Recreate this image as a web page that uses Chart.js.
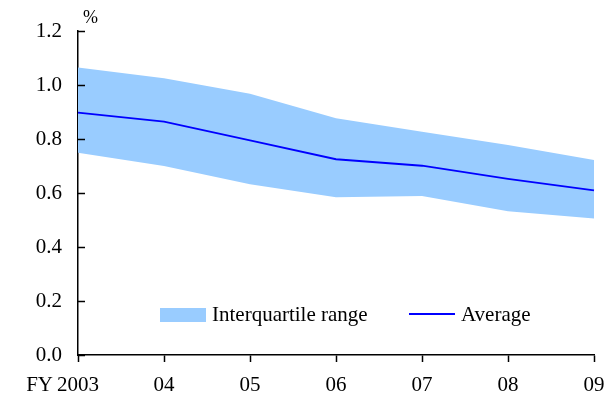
<!DOCTYPE html>
<html>
<head>
<meta charset="utf-8">
<script src="https://cdn.jsdelivr.net/npm/chart.js@4.4.1/dist/chart.umd.min.js"></script>
<style>
  html, body { margin: 0; padding: 0; background: #fff; }
  #wrap { width: 612px; height: 396px; }
</style>
</head>
<body>
<div id="wrap"><canvas id="c" width="612" height="396"></canvas></div>
<script>
const years = ['2003', '04', '05', '06', '07', '08', '09'];
const upperQuartile = [1.065, 1.025, 0.968, 0.877, 0.827, 0.778, 0.722];
const average = [0.898, 0.864, 0.795, 0.725, 0.701, 0.652, 0.610];
const lowerQuartile = [0.749, 0.700, 0.632, 0.584, 0.589, 0.532, 0.506];
const yTickValues = [0, 0.2, 0.4, 0.6, 0.8, 1.0, 1.2];
const seriesNames = ['Interquartile range', 'Average'];
const unitLabel = '%';
const fyLabel = 'FY';

const FONT = '"Liberation Serif", "Times New Roman", serif';
const BAND = '#99CCFF';
const LINE = '#0000FF';

const extras = {
  id: 'extras',
  afterDraw(chart) {
    const ctx = chart.ctx;
    const y = chart.scales.y;
    const x = chart.scales.x;
    const left = chart.chartArea.left;
    ctx.save();
    // inward y ticks
    ctx.strokeStyle = '#000';
    ctx.lineWidth = 1.5;
    yTickValues.forEach(v => {
      const py = Math.round(y.getPixelForValue(v)) + 0.5;
      ctx.beginPath();
      ctx.moveTo(left, py);
      ctx.lineTo(left + 7, py);
      ctx.stroke();
    });
    ctx.fillStyle = '#000';
    // unit label
    ctx.font = '18px ' + FONT;
    ctx.textAlign = 'left';
    ctx.textBaseline = 'alphabetic';
    ctx.fillText(unitLabel, left + 5, 23);
    // FY label
    ctx.font = '21px ' + FONT;
    ctx.textAlign = 'right';
    ctx.textBaseline = 'middle';
    ctx.fillText(fyLabel, x.getPixelForValue(0) - 25, 385);
    // legend
    const ly = 315;
    ctx.fillStyle = BAND;
    ctx.fillRect(160, ly - 7, 46, 14);
    ctx.fillStyle = '#000';
    ctx.textAlign = 'left';
    ctx.fillText(seriesNames[0], 212, ly);
    ctx.strokeStyle = LINE;
    ctx.lineWidth = 1.8;
    ctx.beginPath();
    ctx.moveTo(409, ly - 1);
    ctx.lineTo(455, ly - 1);
    ctx.stroke();
    ctx.fillText(seriesNames[1], 461, ly);
    ctx.restore();
  }
};

new Chart(document.getElementById('c'), {
  type: 'line',
  data: {
    labels: years,
    datasets: [
      {
        label: 'Lower quartile',
        data: lowerQuartile,
        borderWidth: 0,
        borderColor: 'rgba(0,0,0,0)',
        pointRadius: 0,
        fill: false,
        order: 2
      },
      {
        label: seriesNames[0],
        data: upperQuartile,
        borderWidth: 0,
        borderColor: 'rgba(0,0,0,0)',
        backgroundColor: BAND,
        pointRadius: 0,
        fill: '-1',
        order: 1
      },
      {
        label: seriesNames[1],
        data: average,
        borderColor: LINE,
        borderWidth: 1.8,
        pointRadius: 0,
        fill: false,
        tension: 0,
        order: 0
      }
    ]
  },
  options: {
    responsive: false,
    animation: false,
    events: [],
    layout: { padding: { top: 31, right: 18, left: 0, bottom: 0 } },
    plugins: {
      legend: { display: false },
      tooltip: { enabled: false },
      filler: { propagate: false }
    },
    scales: {
      x: {
        type: 'category',
        offset: false,
        border: { display: true, color: '#000', width: 1.5 },
        grid: { display: true, drawOnChartArea: false, drawTicks: true, tickLength: 7, color: '#000', tickWidth: 1.5 },
        ticks: { color: '#000', font: { family: FONT, size: 21 }, padding: 11, maxRotation: 0, autoSkip: false },
        afterFit(scale) {
          scale.height = 41;
          scale.paddingLeft = 0;
          scale.paddingRight = 0;
        }
      },
      y: {
        min: 0,
        max: 1.2,
        border: { display: true, color: '#000', width: 1.5 },
        grid: { display: false, drawTicks: false },
        afterBuildTicks(scale) { scale.ticks = yTickValues.map(v => ({ value: v })); },
        ticks: {
          color: '#000',
          font: { family: FONT, size: 21 },
          padding: 16,
          callback: v => Number(v).toFixed(1)
        },
        afterFit(scale) {
          scale.width = 78;
          scale.paddingTop = 0;
          scale.paddingBottom = 0;
        }
      }
    }
  },
  plugins: [extras]
});
</script>
</body>
</html>
